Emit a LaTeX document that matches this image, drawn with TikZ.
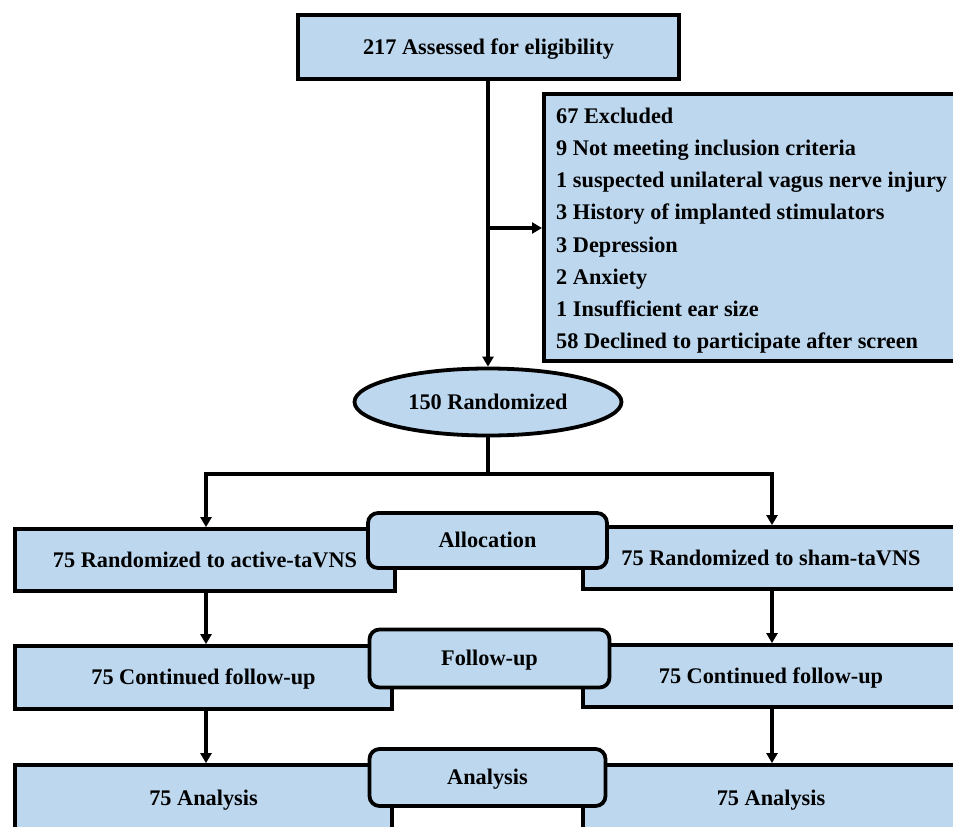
\documentclass[tikz,border=0pt]{standalone}
\usepackage{fontspec}
\setmainfont{Liberation Serif}
\usetikzlibrary{arrows.meta,shapes.geometric}
\definecolor{boxblue}{RGB}{189,215,238}
\begin{document}
\begin{tikzpicture}[x=1pt,y=-1pt,
  font=\fontsize{22.3}{32.2}\selectfont\bfseries,
  box/.style={draw=black, line width=3.8pt, fill=boxblue, inner sep=0pt, text height=15pt, text depth=1pt},
  phase/.style={box, rounded corners=10pt},
  conn/.style={line width=3.2pt, draw=black},
  tip/.tip={Triangle[width=11pt,length=10pt]},
  arr/.style={conn, -tip}]
\useasboundingbox (0,0) rectangle (953,827);
\clip (0,0) rectangle (953,827);

% top part
\node[box, minimum width=381pt, minimum height=64pt] (top) at (488.5,47) {217 Assessed for eligibility};
\node[box, minimum width=460pt, minimum height=267pt, anchor=north west] (excl) at (542,92) {};
\node[inner sep=0pt, align=left, anchor=north west] (excltext) at (556,107.7) {67 Excluded\\
9 Not meeting inclusion criteria\\
1 suspected unilateral vagus nerve injury\\
3 History of implanted stimulators\\
3 Depression\\
2 Anxiety\\
1 Insufficient ear size\\
58 Declined to participate after screen};
\node[box, ellipse, minimum width=267pt, minimum height=67pt] (rand) at (488,402) {150 Randomized};

\coordinate (j1) at (488,228);
\coordinate (j2) at (488,474);
\coordinate (cl) at (206,474);
\coordinate (cr) at (772,474);

% row boxes
\node[box, minimum width=380pt, minimum height=62pt] (lb1) at (205,560) {75 Randomized to active-taVNS};
\node[box, minimum width=376pt, minimum height=62pt] (rb1) at (771,558) {75 Randomized to sham-taVNS};
\node[box, minimum width=377pt, minimum height=63pt] (lb2) at (203.5,677.5) {75 Continued follow-up};
\node[box, minimum width=376pt, minimum height=62pt] (rb2) at (771,676) {75 Continued follow-up};
\node[box, minimum width=377pt, minimum height=66pt] (lb3) at (203.5,798) {75 Analysis};
\node[box, minimum width=376pt, minimum height=66pt] (rb3) at (771,798) {75 Analysis};

% phase boxes
\node[phase, minimum width=239pt, minimum height=55pt] (alloc) at (487.5,540.5) {Allocation};
\node[phase, minimum width=240pt, minimum height=58pt] (follow) at (489.5,658.5) {Follow-up};
\node[phase, minimum width=236pt, minimum height=57pt] (anal) at (487.5,777.5) {Analysis};

% connectors
\draw[arr] (top.south -| j1) -- (rand.north -| j1);
\draw[arr] (j1) -- (excl.west |- j1);
\draw[conn] (rand.south) -- (j2);
\draw[conn, tip-tip] (lb1.north -| cl) -- (cl) -- (cr) -- (rb1.north -| cr);
\draw[arr] (lb1.south -| cl) -- (lb2.north -| cl);
\draw[arr] (lb2.south -| cl) -- (lb3.north -| cl);
\draw[arr] (rb1.south -| cr) -- (rb2.north -| cr);
\draw[arr] (rb2.south -| cr) -- (rb3.north -| cr);
\end{tikzpicture}
\end{document}
